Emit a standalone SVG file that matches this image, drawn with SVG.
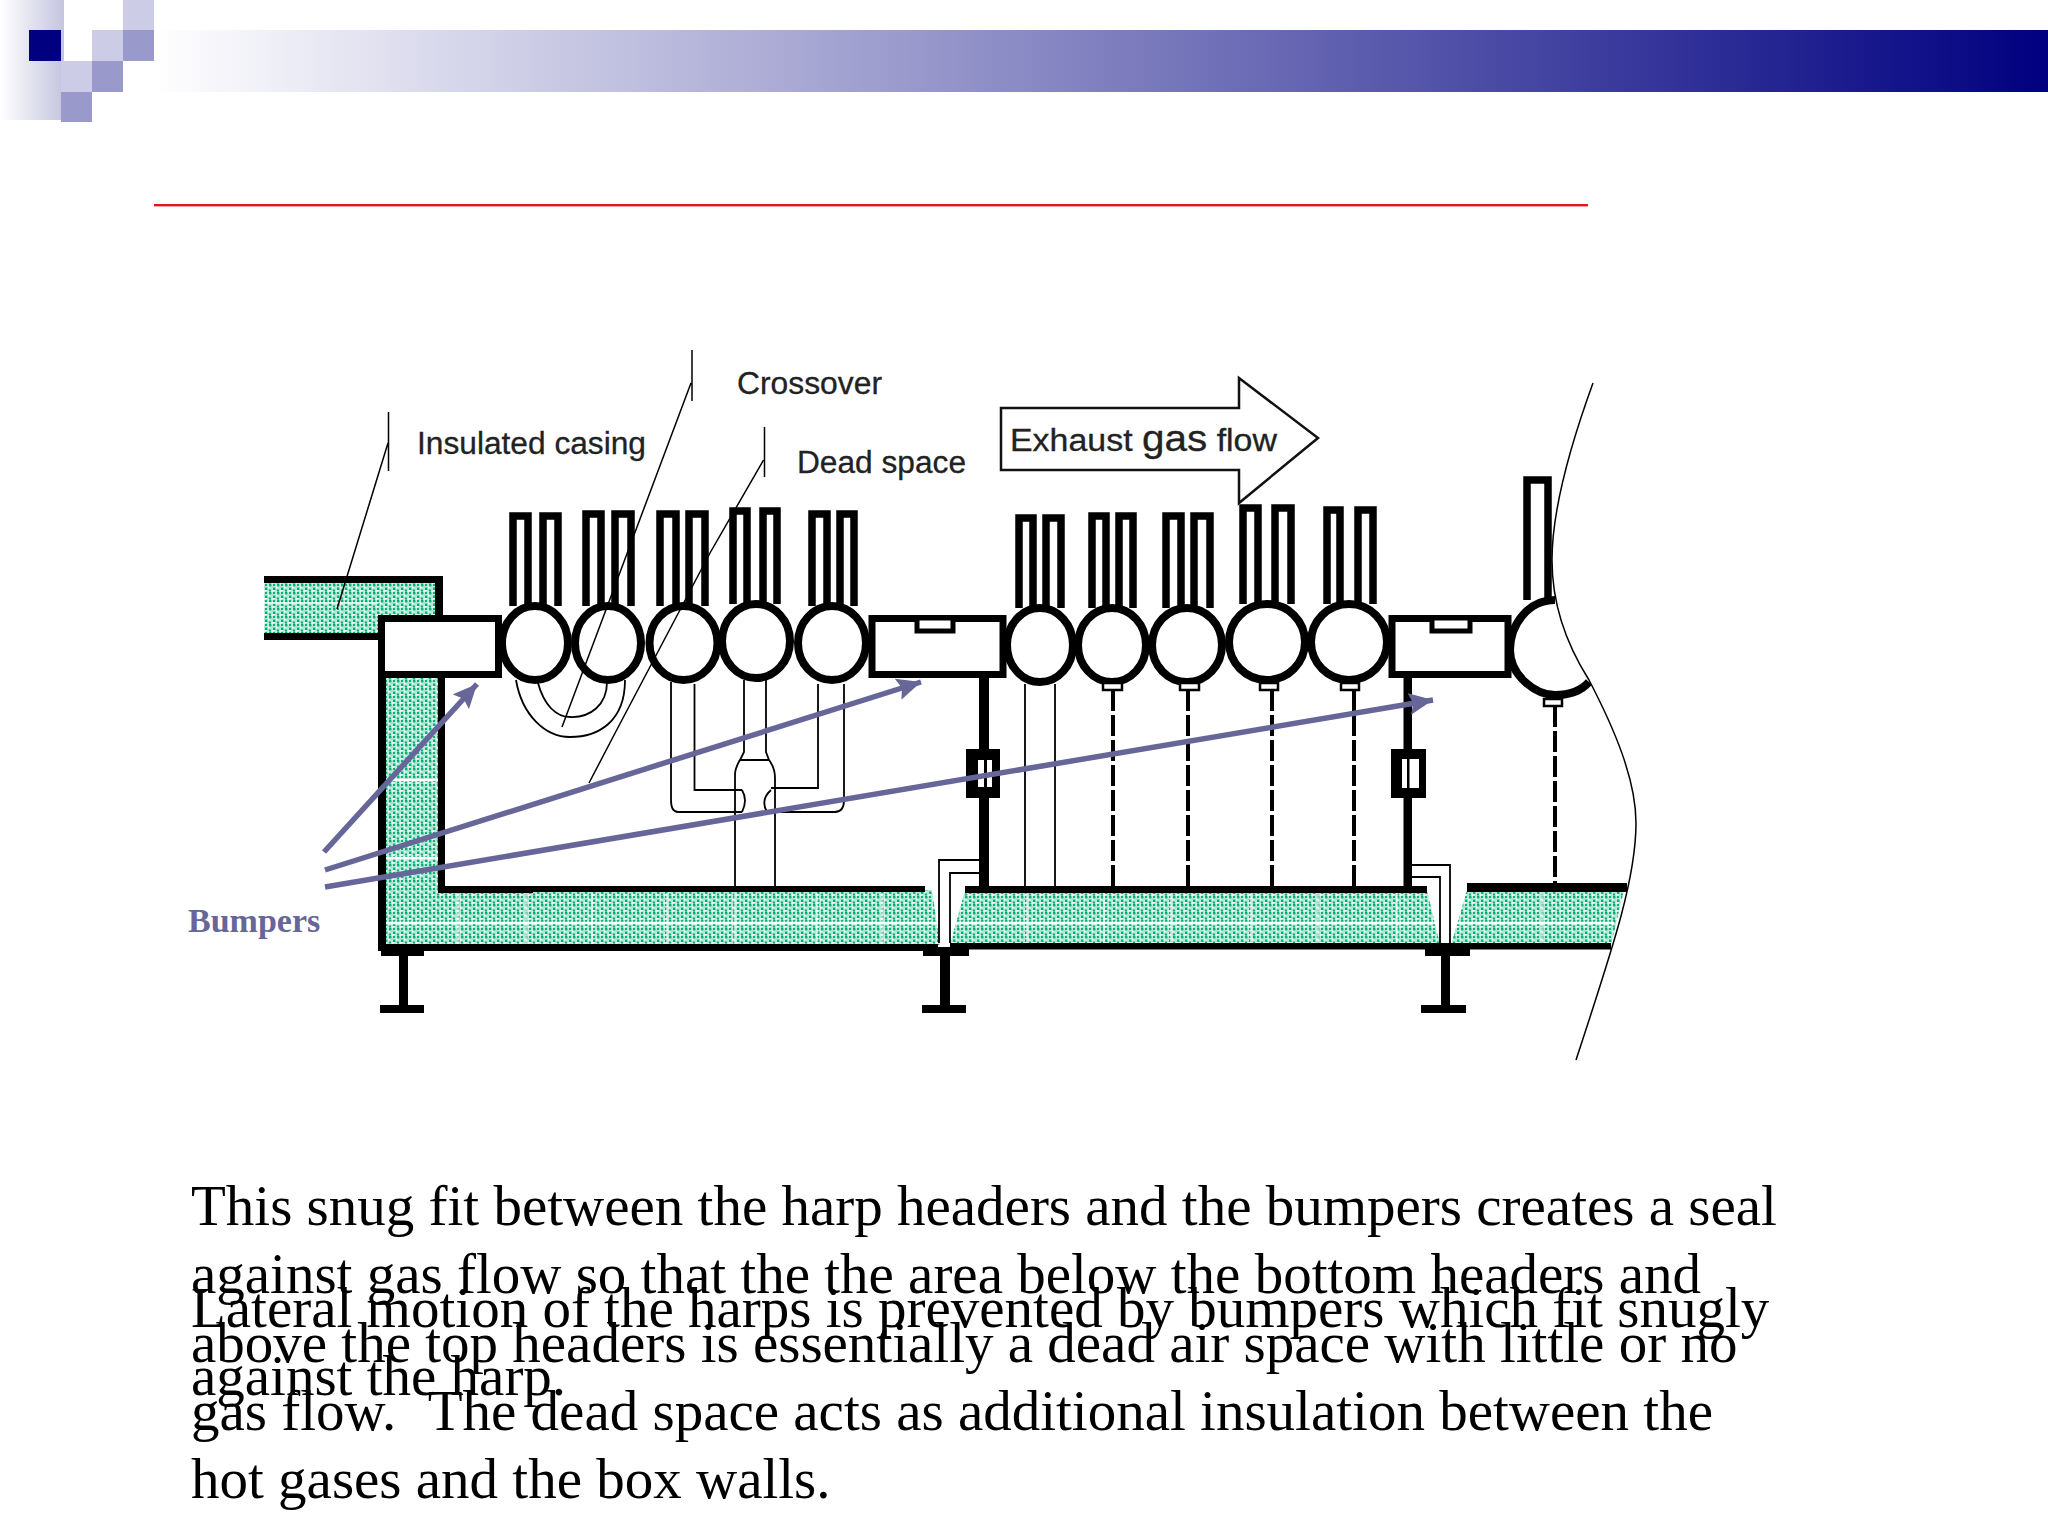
<svg xmlns="http://www.w3.org/2000/svg" width="2048" height="1536" viewBox="0 0 2048 1536">
<style>
.k{fill:none;stroke:#000;stroke-width:7}
.t{fill:none;stroke:#000;stroke-width:1.8}
.b{fill:#000}
.w{fill:#fff;stroke:#000;stroke-width:7}
.d{fill:none;stroke:#000;stroke-width:4;stroke-dasharray:21 4}
.h{fill:url(#hatch)}
.lab{font-family:"Liberation Sans",Arial,sans-serif;font-size:31px;fill:#222;stroke:#222;stroke-width:.3}
.body{font-family:"Liberation Serif","Times New Roman",serif;font-size:57px;fill:#000}
.arr{fill:none;stroke:#666699;stroke-width:5.5}
</style>
<defs>
<linearGradient id="bar" x1="0" x2="1" y1="0" y2="0"><stop offset="0" stop-color="#fff"/><stop offset="1" stop-color="#000080"/></linearGradient>
<linearGradient id="side" x1="0" x2="1" y1="0" y2="0"><stop offset="0" stop-color="#fff"/><stop offset="1" stop-color="#c4c4de"/></linearGradient>
<pattern id="hatch" width="8" height="8" patternUnits="userSpaceOnUse">
<rect width="8" height="8" fill="#b4ead6"/>
<path d="M0 8L8 0" stroke="#e6faf3" stroke-width="1.600"/>
<path d="M1 6h2.500v-2.500h-2.500zM5 2.500h2.500v-2.500h-2.500zM5 7.500h2v-2h-2zM1 2h2v-2h-2z" fill="#12ab7b"/>
</pattern>
<marker id="ah" markerUnits="userSpaceOnUse" markerWidth="26" markerHeight="22" refX="24" refY="11" orient="auto"><path d="M0 0L24 11L0 22L4 11Z" fill="#666699"/></marker>
</defs>
<g id="header">
<rect x="154" y="30" width="1894" height="62" fill="url(#bar)"/>
<rect x="0" y="0" width="64" height="120" fill="url(#side)"/>
<rect x="29" y="30" width="32" height="31" fill="#000080"/>
<rect x="123" y="0" width="31" height="30" fill="#ccccE6"/>
<rect x="92" y="30" width="31" height="31" fill="#ccccE6"/>
<rect x="123" y="30" width="31" height="31" fill="#9999cc"/>
<rect x="61" y="61" width="31" height="31" fill="#ccccE6"/>
<rect x="92" y="61" width="31" height="31" fill="#9999cc"/>
<rect x="61" y="92" width="31" height="30" fill="#9999cc"/>
<rect x="154" y="204" width="1434" height="2.4" fill="#e8141c"/>
</g>
<g id="insulation">
<rect class="h" x="264" y="580" width="175" height="56"/>
<path class="h" d="M384 677H440V890H932L940 945H384Z"/>
<path class="h" d="M965 890H1427L1440 945H950Z"/>
<path class="h" d="M1467 890H1624L1611 945H1451Z"/>
<path fill="none" stroke="#fff" stroke-width="2.500" d="M386 923H938M952 923H1438M1454 923H1614M386 780H438M386 858H438"/>
<path fill="none" stroke="#fff" stroke-width="1.300" opacity=".8" d="M458 893V944M526 893V944M592 893V944M667 893V944M735 893V944M817 893V944M882 893V944M1027 893V944M1104 893V944M1171 893V944M1251 893V944M1318 893V944M1397 893V944M1542 893V944M264 603H378"/>
</g>
<g id="casing">
<path class="b" d="M264 576H443V618H435V583H264ZM264 633H378V640H264Z"/>
<rect class="b" x="378" y="677" width="8" height="274"/>
<rect class="b" x="438" y="677" width="7" height="216"/>
<path class="b" d="M438 886H925V892H533V893H438Z"/>
<rect class="b" x="965" y="886" width="462" height="7"/>
<rect class="b" x="1467" y="883" width="160" height="9"/>
<rect class="b" x="378" y="944" width="560" height="7"/>
<rect class="b" x="950" y="943" width="661" height="6.500"/>
</g>
<g id="seams">
<path class="t" d="M979 860H939V943M979 873H950V943"/>
<path class="t" d="M1412 865H1450V943M1412 877H1440V943"/>
</g>
<g id="legs">
<path class="b" d="M381 948H424V956H408V1005H424V1013H380V1005H399V956H381Z"/>
<path class="b" d="M923 947H969V956H950V1005H966V1013H922V1005H940V956H923Z"/>
<path class="b" d="M1425 947H1470V956H1450V1005H1466V1013H1421V1005H1441V956H1425Z"/>
</g>
<g id="pipes">
<path class="t" d="M671 682V800Q671 812 678 812H742M694.500 684V790H742"/>
<path class="t" d="M744 680V752L740 760H769L766 752V680"/>
<path class="t" d="M740 760Q735 768 735 775V886M769 760Q775 768 775 778V886"/>
<path class="t" d="M742 790Q748 800 742 812M771 790Q760 800 767 812H835Q844 812 844 800V684M771 788H818V684"/>
<path class="t" d="M1025 684V886M1055 684V886"/>
<path class="t" d="M516 680C522 715 545 737 570 737C598 737 625 722 625 680"/>
<path class="t" d="M538 683C544 705 556 717 570 717C590 718 607 705 607 682"/>
</g>
<g id="harps">
<g id="harp-tubes" fill="#fff" stroke="#000" stroke-width="7.500">
<path d="M513 606V516H528V606M543 606V516H558V606"/>
<path d="M586 606V514H601V606M615 606V514H631V606"/>
<path d="M660 606V514H676V606M689 606V514H705V606"/>
<path d="M733 604V511H747V604M763 604V511H777V604"/>
<path d="M812 606V514H827V606M840 606V514H854V606"/>
<path d="M1019 608V518H1033V608M1046 608V518H1061V608"/>
<path d="M1092 608V516H1106V608M1119 608V516H1133V608"/>
<path d="M1166 608V516H1181V608M1194 608V516H1210V608"/>
<path d="M1243 604V508H1258V604M1275 604V508H1291V604"/>
<path d="M1327 604V510H1340V604M1358 604V510H1373V604"/>
<path d="M1527 600V480H1548V600"/>
</g>
<g id="headers" fill="#fff" stroke="#000" stroke-width="8">
<ellipse id="h1" cx="535" cy="643" rx="33" ry="37"/>
<ellipse id="h2" cx="608" cy="643" rx="33" ry="37"/>
<ellipse id="h3" cx="683.500" cy="643" rx="34" ry="37"/>
<ellipse id="h4" cx="756" cy="641" rx="34" ry="37"/>
<ellipse id="h5" cx="832" cy="643" rx="34" ry="37"/>
<ellipse id="h6" cx="1040" cy="645" rx="33" ry="37"/>
<ellipse id="h7" cx="1112" cy="645" rx="34" ry="37"/>
<ellipse id="h8" cx="1187" cy="645" rx="35" ry="37"/>
<ellipse id="h9" cx="1267" cy="642" rx="38" ry="38"/>
<ellipse id="h10" cx="1349" cy="642" rx="38" ry="38"/>
</g>
<path id="h11" d="M1555 600C1528 600 1510 625 1510 650C1510 675 1535 695 1555 695C1570 695 1582 690 1589 682" fill="#fff" stroke="#000" stroke-width="8"/>
</g>
<g id="bumper-boxes">
<rect class="w" x="381.500" y="618.500" width="117" height="56"/>
<rect class="w" x="872" y="618.500" width="131" height="56"/>
<rect class="w" x="1392" y="618.500" width="116" height="56"/>
<rect x="917" y="618" width="36" height="13" fill="#fff" stroke="#000" stroke-width="5"/>
<rect x="1432" y="618" width="38" height="13" fill="#fff" stroke="#000" stroke-width="5"/>
</g>
<g id="posts">
<rect class="b" x="979" y="677" width="10" height="216"/>
<rect class="b" x="1403.500" y="677" width="8.500" height="216"/>
<rect class="b" x="966" y="749" width="34" height="49"/>
<rect x="978" y="760" width="14" height="27" fill="#fff"/>
<rect class="b" x="984" y="760" width="3" height="27"/>
<rect class="b" x="1391" y="749" width="35" height="49"/>
<rect x="1402" y="759" width="17" height="29" fill="#fff"/>
<rect class="b" x="1407" y="759" width="2.500" height="29"/>
</g>
<g id="hangers">
<path class="d" d="M1113 690V886M1188 690V886M1272 690V886M1354 690V886M1555 706V883"/>
<g fill="#fff" stroke="#000" stroke-width="2.500">
<rect x="1103" y="683" width="19" height="7"/>
<rect x="1180" y="683" width="19" height="7"/>
<rect x="1260" y="683" width="18" height="7"/>
<rect x="1341" y="683" width="18" height="7"/>
<rect x="1544" y="699" width="18" height="7"/>
</g>
</g>
<g id="flow-arrow">
<path d="M1001 408H1239V378L1318 438L1239 503V470H1001Z" fill="#fff" stroke="#111" stroke-width="2.500"/>
<text class="lab" x="1010" y="451" textLength="267" lengthAdjust="spacingAndGlyphs">Exhaust <tspan font-size="37">gas</tspan> flow</text>
</g>
<g id="labels">
<text class="lab" x="417" y="454" textLength="229" lengthAdjust="spacingAndGlyphs">Insulated casing</text>
<text class="lab" x="737" y="394" textLength="145" lengthAdjust="spacingAndGlyphs">Crossover</text>
<text class="lab" x="797" y="473" textLength="169" lengthAdjust="spacingAndGlyphs">Dead space</text>
</g>
<g id="leaders" fill="none" stroke="#000" stroke-width="1.500">
<path d="M388.500 412V471M388 443L337 609"/>
<path d="M692 350V401M691 383L562 727"/>
<path d="M764.500 427V477M763.500 460L710 553L613 737L589 783"/>
<path id="break-line" d="M1593 383C1565 460 1552 520 1552 560C1552 610 1570 650 1589 680C1615 730 1636 780 1636 823C1636 880 1612 950 1576 1060"/>
</g>
<g id="connectors">
<path class="arr" d="M324 852L477 684" marker-end="url(#ah)"/>
<path class="arr" d="M325 870L921 682" marker-end="url(#ah)"/>
<path class="arr" d="M325 887L1433 700" marker-end="url(#ah)"/>
</g>
<text id="bumpers" x="188" y="932" font-family="Liberation Serif,Times New Roman,serif" font-weight="bold" font-size="34" fill="#666699">Bumpers</text>
<g id="text">
<text class="body" x="191" y="1225">This snug fit between the harp headers and the bumpers creates a seal</text>
<text class="body" x="191" y="1293">against gas flow so that the the area below the bottom headers and</text>
<text class="body" x="191" y="1362">above the top headers is essentially a dead air space with little or no</text>
<text class="body" x="191" y="1430">gas flow.&#160; <tspan dx="4">The dead space acts as additional insulation between the</tspan></text>
<text class="body" x="191" y="1498">hot gases and the box walls.</text>
<text class="body" x="191" y="1327">Lateral motion of the harps is prevented by bumpers which fit snugly</text>
<text class="body" x="191" y="1395">against the harp.</text>
</g>
</svg>
